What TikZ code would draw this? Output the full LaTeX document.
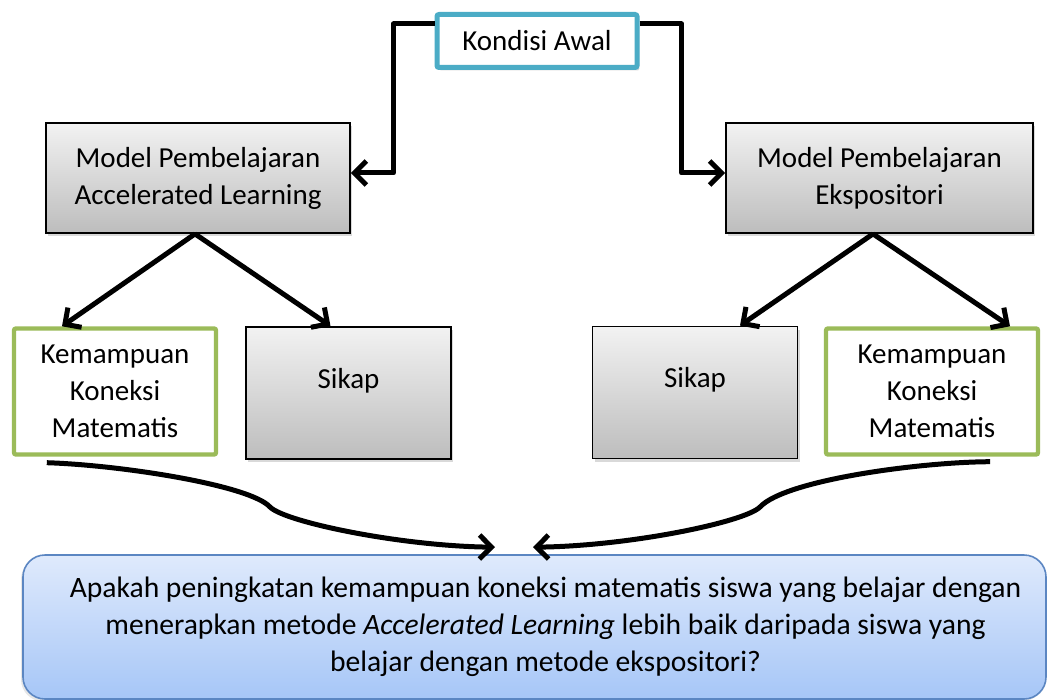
\documentclass[tikz,border=0pt]{standalone}
\usepackage{fontspec}
\setmainfont{Carlito}
\usetikzlibrary{
    arrows.meta,
    shadows,
    calc
}
\definecolor{awalcol}{HTML}{4BACC6}
\definecolor{kemcol}{HTML}{9BBB59}
\definecolor{tanyacol}{HTML}{5B86C2}
\definecolor{tanyatop}{HTML}{DFEAFC}
\definecolor{tanyabot}{HTML}{A6C6F7}
\definecolor{abutop}{HTML}{F2F2F2}
\definecolor{abubot}{HTML}{BDBDBD}

\begin{document}
\begin{tikzpicture}[x=0.5pt, y=-0.5pt,
    every node/.style={font=\fontsize{14.5}{18.5}\selectfont, align=center, inner sep=0pt},
    bayang/.style={drop shadow={shadow xshift=1.2pt, shadow yshift=-1.5pt, opacity=0.3}},
    awalbox/.style={draw=awalcol, line width=2.5pt, fill=white, rounded corners=1pt,
        minimum width=100pt, minimum height=26.5pt, bayang},
    modelbox/.style={draw, line width=0.9pt, top color=abutop, bottom color=abubot,
        minimum width=152pt, minimum height=55pt, bayang},
    sikapbox/.style={modelbox, minimum width=102.5pt, minimum height=66pt,
        text height=10pt, text depth=15pt},
    kemampuanbox/.style={draw=kemcol, line width=2.2pt, fill=white, rounded corners=1pt,
        minimum width=101pt, minimum height=63pt},
    tanyabox/.style={draw=tanyacol, line width=0.8pt, top color=tanyatop, bottom color=tanyabot,
        rounded corners=11pt, minimum width=511.5pt, minimum height=72pt,
        font=\fontsize{14.8}{18.5}\selectfont,
        drop shadow={shadow xshift=-1pt, shadow yshift=-1.2pt, opacity=0.2}},
    panah/.style={line width=2.5pt, line join=round, -{Straight Barb[length=6pt, width=12pt]}}
]
    \useasboundingbox (0,0) rectangle (1048,700);

    % kotak-kotak
    \node[awalbox] (awal) at (537,41) {Kondisi Awal};
    \node[modelbox] (modelA) at (198,178) {Model Pembelajaran\\Accelerated Learning};
    \node[modelbox, minimum width=153.5pt] (modelE) at (879.5,178) {Model Pembelajaran\\Ekspositori};
    \node[kemampuanbox] (kemA) at (115,391.5) {Kemampuan\\Koneksi\\Matematis};
    \node[sikapbox] (sikapA) at (348.5,393) {Sikap};
    \node[sikapbox] (sikapE) at (695,392.5) {Sikap};
    \node[kemampuanbox, minimum width=106pt] (kemE) at (932,391.5) {Kemampuan\\Koneksi\\Matematis};
    \node[tanyabox] (tanya) at (534.5,627)
        {\hspace*{11pt}Apakah peningkatan kemampuan koneksi matematis siswa yang belajar dengan\\
         \hspace*{11pt}menerapkan metode \textit{Accelerated Learning} lebih baik daripada siswa yang\\
         \hspace*{11pt}belajar dengan metode ekspositori?};

    % panah
    \draw[panah] ([yshift=8.5pt]awal.west) -- ++(-41,0) |- ([yshift=2.5pt]modelA.east);
    \draw[panah] ([yshift=8.5pt]awal.east) -- ++(42,0) |- ([yshift=2.5pt]modelE.west);
    \draw[panah] ([xshift=-1.5pt]modelA.south) -- ([xshift=-26.5pt]kemA.north);
    \draw[panah] ([xshift=-1.5pt]modelA.south) -- ([xshift=-9pt]sikapA.north);
    \draw[panah] ([xshift=-3.25pt]modelE.south) -- ([xshift=22.5pt]sikapE.north);
    \draw[panah] ([xshift=-3.25pt]modelE.south) -- ([xshift=39pt]kemE.north);
    \draw[panah] ([xshift=17.5pt, yshift=-3pt]kemA.south west)
        .. controls (120,465) and (250,485) .. (270,507)
        .. controls (285,522) and (400,546) .. ([xshift=-19.75pt, yshift=3.5pt]tanya.north);
    \draw[panah] ([xshift=-25pt, yshift=-2.5pt]kemE.south east)
        .. controls (920,462) and (785,480) .. (760,507)
        .. controls (745,522) and (630,546) .. ([xshift=-0.75pt, yshift=3.5pt]tanya.north);
\end{tikzpicture}
\end{document}
